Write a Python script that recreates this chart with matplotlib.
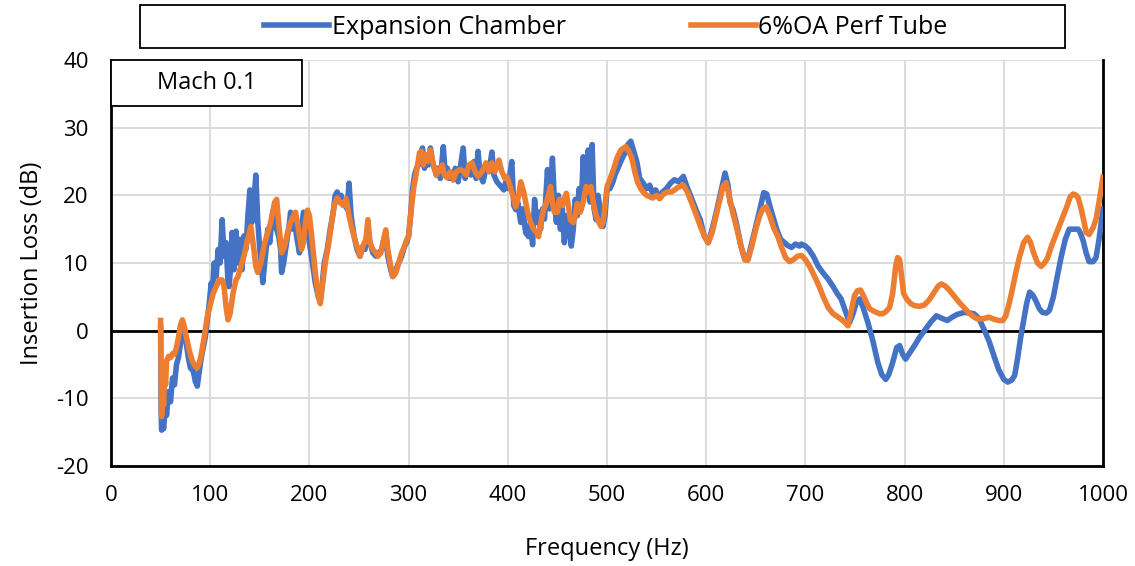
import numpy as np
import matplotlib.pyplot as plt
from matplotlib.patches import Rectangle

plt.rcParams.update({'font.family': ['Open Sans', 'DejaVu Sans'], 'font.size': 16,
                     'axes.unicode_minus': False})

blue = '#4472C4'
orange = '#ED7D31'

# (frequency Hz, insertion loss dB)
expansion_chamber = np.array([
    (50, 0.5), (50.5, -12), (51, -14.7), (52, -13.5), (53, -14.5), (55, -11), (56, -12.5),
    (58, -9), (60, -10.5), (62, -7), (64, -8), (66, -5), (68, -4), (70, -2), (72, 0.5),
    (74, 0), (76, -2), (78, -4), (80, -5.5), (83, -6), (85, -7.5), (87, -8.2), (89, -6),
    (91, -4), (93, -2.5), (95, -1), (97, 1.5), (99, 4), (101, 7), (102, 5), (104, 10),
    (106, 8), (108, 12), (110, 10), (112, 16.4), (114, 11), (116, 13), (118, 7), (119, 6.5),
    (121, 10), (122, 14.5), (124, 9), (126, 14.7), (128, 10), (130, 13.5), (132, 9),
    (134, 14), (136, 12), (138, 17), (140, 20.8), (142, 16), (144, 19), (146, 23), (148, 16),
    (150, 12), (152, 9), (153, 7.1), (155, 10), (157, 13), (158, 15), (160, 13), (163, 17.5),
    (165, 18.3), (167, 15), (169, 14), (171, 12), (172, 8.6), (174, 10), (176, 12), (178, 14),
    (180, 16), (181, 17.5), (183, 15), (185, 16.5), (187, 14), (190, 11.5), (192, 15),
    (194, 17.5), (196, 17), (198, 15), (200, 13), (203, 10), (206, 7), (209, 5), (211, 4.5),
    (213, 7), (215, 10), (218, 12), (221, 15), (224, 17.5), (226, 20), (228, 20.5), (230, 19),
    (232, 20), (234, 19), (236, 18.5), (238, 18), (240, 21.8), (242, 17), (245, 14), (248, 12),
    (251, 11), (254, 12.5), (256, 12), (259, 15.5), (261, 13), (264, 11.5), (267, 11),
    (270, 11.5), (273, 12), (275, 13.5), (277, 14.5), (279, 11), (282, 9), (284, 8), (287, 9),
    (290, 10), (293, 11), (296, 12.5), (298, 13), (300, 14), (302, 17), (304, 21), (306, 23),
    (308, 24), (310, 24.5), (312, 26), (314, 27), (316, 24), (318, 26), (320, 24.5), (322, 27),
    (324, 25), (326, 24), (328, 23), (330, 24), (332, 22.5), (335, 27.2), (337, 23), (339, 24),
    (341, 22.5), (343, 23), (345, 22.3), (347, 24), (350, 22), (352, 24), (355, 27),
    (357, 22.5), (360, 24), (363, 23), (366, 25), (368, 22.5), (370, 26.5), (372, 23),
    (375, 22), (378, 24), (381, 23.5), (384, 26.4), (386, 23), (389, 22), (392, 21.5),
    (396, 20.8), (398, 22), (400, 21), (402, 23), (404, 25), (406, 18.5), (408, 17.9),
    (410, 19), (413, 16), (415, 18), (418, 14.5), (421, 13.9), (423, 16), (425, 12.7),
    (427, 19.4), (429, 16), (431, 17.5), (433, 15), (435, 18), (437, 16.5), (440, 23.8),
    (442, 18), (445, 25.5), (447, 19), (449, 16), (451, 20), (453, 15), (455, 18), (457, 13),
    (459, 17), (461, 16), (464, 12.5), (466, 15), (468, 19.4), (470, 17), (472, 21), (474, 18),
    (476, 25.7), (478, 20), (481, 26.7), (483, 19), (485, 27.5), (487, 18), (489, 16.4),
    (491, 20), (493, 18), (496, 15.4), (498, 17), (500, 20.8), (503, 21), (506, 22), (508, 23),
    (511, 24), (514, 25), (516, 25.7), (519, 26.5), (521, 27.5), (524, 28), (526, 27),
    (528, 26), (530, 25), (533, 22.5), (536, 21.9), (540, 21), (543, 21.5), (546, 20.3),
    (549, 20.8), (553, 19.6), (556, 20.5), (560, 21), (564, 21.8), (568, 22.3), (572, 22),
    (577, 22.8), (580, 21.5), (584, 20), (588, 18.5), (591, 17.4), (594, 16.4), (598, 14),
    (602, 13), (606, 15), (610, 17.4), (614, 20), (617, 22), (619, 23.3), (622, 21.5),
    (624, 19), (627, 17.9), (631, 15.5), (635, 12.5), (639, 10.5), (642, 10.6), (646, 13),
    (651, 16), (655, 18.5), (658, 20.4), (661, 20.2), (664, 18.5), (667, 17), (671, 15),
    (675, 13.5), (679, 13), (682, 12.6), (686, 12.3), (690, 12.8), (694, 12.5), (696, 12.8),
    (700, 12.5), (703, 12.1), (708, 11), (713, 9.5), (718, 8.5), (723, 7.6), (728, 6.5),
    (732, 5.5), (736, 4.7), (740, 3), (744.5, 1.2), (748, 2.5), (751, 4), (754.6, 4.7),
    (758, 3.5), (763, 1.2), (768, -1.5), (773, -4.7), (777, -6.5), (781, -7.2), (784, -6.5),
    (788, -4.7), (792, -2.5), (795, -2.2), (798, -3.5), (801, -4.2), (805, -3.3), (810, -2.2),
    (815, -1), (820, 0), (826, 1.2), (832, 2.2), (838, 1.8), (843, 1.5), (848, 2), (853, 2.4),
    (860, 2.7), (866, 2.6), (870, 2.5), (875, 1.8), (880, 0.2), (885, -1.5), (890, -3.7),
    (895, -5.8), (900, -7.2), (904, -7.6), (908, -7.3), (911, -6.6), (914, -4), (917, -1),
    (920, 1.5), (923, 4), (926, 5.7), (929, 5.3), (932, 4.5), (936, 3.2), (939, 2.7),
    (943, 2.6), (946, 3.0), (950, 5), (954, 8.1), (958, 11), (962, 13.5), (966, 15), (970, 15),
    (975, 15), (977, 14.5), (980, 13.3), (983, 11.5), (986, 10.2), (990, 10.2), (993, 10.8),
    (996, 13.5), (1000, 18),
])

perf_tube = np.array([
    (50, 1.5), (50.5, -5), (51, -12.7), (52, -9), (53, -11), (54, -6), (55, -8), (56, -4.5),
    (58, -3.8), (60, -4), (62, -3.4), (64, -3.5), (66, -2.5), (68, -1), (70, 0.8), (72, 1.6),
    (74, 0.5), (76, -1), (79, -3), (82, -4.5), (85, -5.3), (87, -5.5), (89, -4.8), (91, -3.5),
    (94, -0.9), (97, 2), (100, 3.8), (103, 5.5), (106, 6.5), (109, 7.5), (112, 7.5),
    (114, 6.5), (116, 3.5), (118, 1.6), (120, 2.5), (123, 5.5), (126, 7.5), (128, 8),
    (131, 9.5), (134, 11), (137, 13), (141, 15.4), (144, 12), (146, 9.5), (148, 8.6),
    (151, 10), (155, 13), (158, 14.5), (161, 16), (163, 17.5), (165, 19), (167, 19.4),
    (169, 16), (172, 11.5), (175, 12.5), (178, 14.5), (181, 16), (184, 17), (186, 17.5),
    (189, 15), (192, 12), (194, 13), (196, 16), (198, 17.8), (200, 17), (203, 13), (206, 8.5),
    (209, 5), (211, 4), (213, 6.5), (216, 10), (219, 12.5), (222, 15.5), (225, 18.5),
    (228, 19.6), (231, 19), (234, 18.5), (237, 19.5), (240, 17), (243, 15), (246, 13.4),
    (249, 12), (251, 11), (254, 12.5), (257, 13.5), (259, 16.4), (261, 13), (264, 12),
    (267, 11.5), (269, 11), (272, 11.5), (275, 13.5), (277, 14.9), (279, 12), (282, 9.5),
    (284, 8), (287, 8.5), (290, 10), (293, 11.5), (296, 12.5), (298, 13.4), (300, 14),
    (302, 17), (305, 21), (308, 23.5), (311, 26.3), (313, 26.5), (315, 24.5), (317, 26),
    (319, 25), (322, 26.7), (325, 24.5), (328, 23), (331, 23.8), (334, 24.5), (336, 23),
    (339, 22.6), (342, 23.5), (345, 22.3), (348, 23.5), (352, 23.8), (355, 23.6), (358, 23),
    (361, 24.5), (364, 24.8), (367, 23.5), (370, 22.8), (374, 23.5), (378, 24.8), (381, 23.5),
    (384, 24.8), (387, 23.5), (391, 25.2), (394, 23.5), (397, 22.5), (399, 22.8), (402, 21.5),
    (405, 20), (408, 18.3), (411, 20), (413, 22), (416, 20.5), (418, 19), (420, 17.5),
    (423, 16), (426, 15), (429, 14.5), (431, 13.9), (434, 16.5), (436, 17.9), (438, 18.5),
    (440, 19.5), (443, 21.3), (445, 19), (447, 17.5), (450, 17.5), (452, 19.4), (455, 18.5),
    (457, 19.5), (459, 20.3), (461, 18.5), (463, 16.4), (466, 16), (468, 17), (470, 18.8),
    (473, 17.5), (476, 19), (479, 21.3), (482, 20.5), (484, 21.3), (486, 19), (489, 17),
    (492, 16), (494, 15.4), (496, 16), (498, 18.5), (500, 21.3), (502, 22), (504, 22.8),
    (507, 24), (510, 25.5), (514, 26.7), (517, 27), (519, 27.2), (522, 26.5), (525, 25.5),
    (528, 23.5), (531, 21.9), (534, 21), (537, 20.4), (540, 20), (543, 19.8), (546, 19.6),
    (550, 20), (553, 19.5), (557, 20.2), (561, 20.5), (565, 20.5), (568, 20.8), (572, 21.2),
    (577, 21.5), (581, 20.5), (585, 19), (589, 17.5), (594, 15.5), (598, 14), (602, 13),
    (606, 14.5), (610, 17), (614, 19.5), (617, 21.3), (620, 21.9), (623, 20), (627, 17.3),
    (631, 15), (635, 12.5), (639, 10.5), (642, 10.4), (646, 12.5), (650, 15), (654, 17),
    (657, 18), (660.5, 18.3), (664, 17), (668, 15.2), (672, 14), (676, 12.3), (680, 10.8),
    (684, 10.2), (688, 10.5), (692, 11), (696, 11.1), (700, 10.5), (705, 9.3), (709, 8.1),
    (714, 6.5), (718, 5), (723, 3.4), (728, 2.5), (732, 2.1), (736, 1.7), (740, 1.2),
    (743, 0.7), (746, 2.8), (749.5, 5.2), (752.5, 5.9), (755.6, 6.0), (759, 5), (762, 4),
    (765, 3.2), (770, 2.8), (775, 2.5), (778, 2.5), (781, 2.8), (784.8, 3.4), (788, 5.5),
    (791, 9.5), (793, 10.8), (795, 10.5), (797, 8), (799, 5.5), (802, 4.7), (806, 4),
    (810, 3.7), (815, 3.6), (820, 3.8), (825, 4.6), (830, 5.7), (834, 6.6), (837, 6.9),
    (841, 6.6), (845, 6.0), (850, 5.1), (855, 4.2), (860, 3.4), (865, 2.6), (870, 2.0),
    (874, 1.7), (880, 1.8), (885, 2.0), (890, 1.7), (895, 1.5), (899, 1.5), (902, 2.2),
    (905, 3.8), (908, 5.7), (912, 8.5), (916, 11), (920, 13), (924, 13.8), (927, 13),
    (930, 11.5), (934, 10), (937.6, 9.5), (941, 10), (944, 10.7), (948, 12.5), (952, 14),
    (956, 15.5), (960, 17), (964, 18.5), (967, 19.8), (970, 20.2), (973, 20), (975, 19.6),
    (978, 18), (981, 16), (983, 14.5), (986, 14.2), (990, 15.2), (993, 16.5), (996, 19),
    (1000, 22.7),
])

series_names = ['Expansion Chamber', '6%OA Perf Tube']
x_ticks = list(range(0, 1001, 100))
y_ticks = list(range(-20, 41, 10))
annotation = 'Mach 0.1'

fig = plt.figure(figsize=(11.35, 5.66), dpi=100)
ax = fig.add_axes([111 / 1135, 1 - 466 / 566, 992 / 1135, 406 / 566])

ax.plot(expansion_chamber[:, 0], expansion_chamber[:, 1], color=blue, lw=4,
        solid_joinstyle='round', label=series_names[0], zorder=3)
ax.plot(perf_tube[:, 0], perf_tube[:, 1], color=orange, lw=4,
        solid_joinstyle='round', label=series_names[1], zorder=4)
ax.axhline(0, color='black', lw=2, zorder=2)

ax.set_xlim(0, 1000)
ax.set_ylim(-20, 40)
ax.set_xticks(x_ticks)
ax.set_yticks(y_ticks)
ax.grid(True, color='#d9d9d9', lw=1.3)
ax.set_axisbelow(True)
ax.tick_params(length=0, labelsize=16)
ax.tick_params(axis='x', pad=14)
ax.tick_params(axis='y', pad=16)
ax.spines['top'].set_visible(False)
for s in ['left', 'bottom', 'right']:
    ax.spines[s].set_linewidth(2)
    ax.spines[s].set_color('black')
ax.set_xlabel('Frequency (Hz)', fontsize=17, labelpad=22)
ax.set_ylabel('Insertion Loss (dB)', fontsize=17, labelpad=9)

# "Mach 0.1" box in the upper left corner
ax.add_patch(Rectangle((0, 0.887), 0.1925, 0.113, transform=ax.transAxes,
                       facecolor='white', edgecolor='black', lw=1.3, zorder=5, clip_on=False))
ax.text(0.0962, 0.943, annotation, transform=ax.transAxes, ha='center', va='center',
        fontsize=17, zorder=6)

# legend with its own frame above the plot
fig.patches.append(Rectangle((140 / 1135, 1 - 48 / 566), 925 / 1135, 43 / 566,
                             transform=fig.transFigure, facecolor='white',
                             edgecolor='black', lw=1.3))
fig.legend(loc='center', bbox_to_anchor=(606 / 1135, 1 - 27 / 566), ncol=2,
           frameon=False, fontsize=18, handlelength=2.6, handletextpad=0.1,
           columnspacing=5.0)

fig.savefig('out.png', dpi=100)
